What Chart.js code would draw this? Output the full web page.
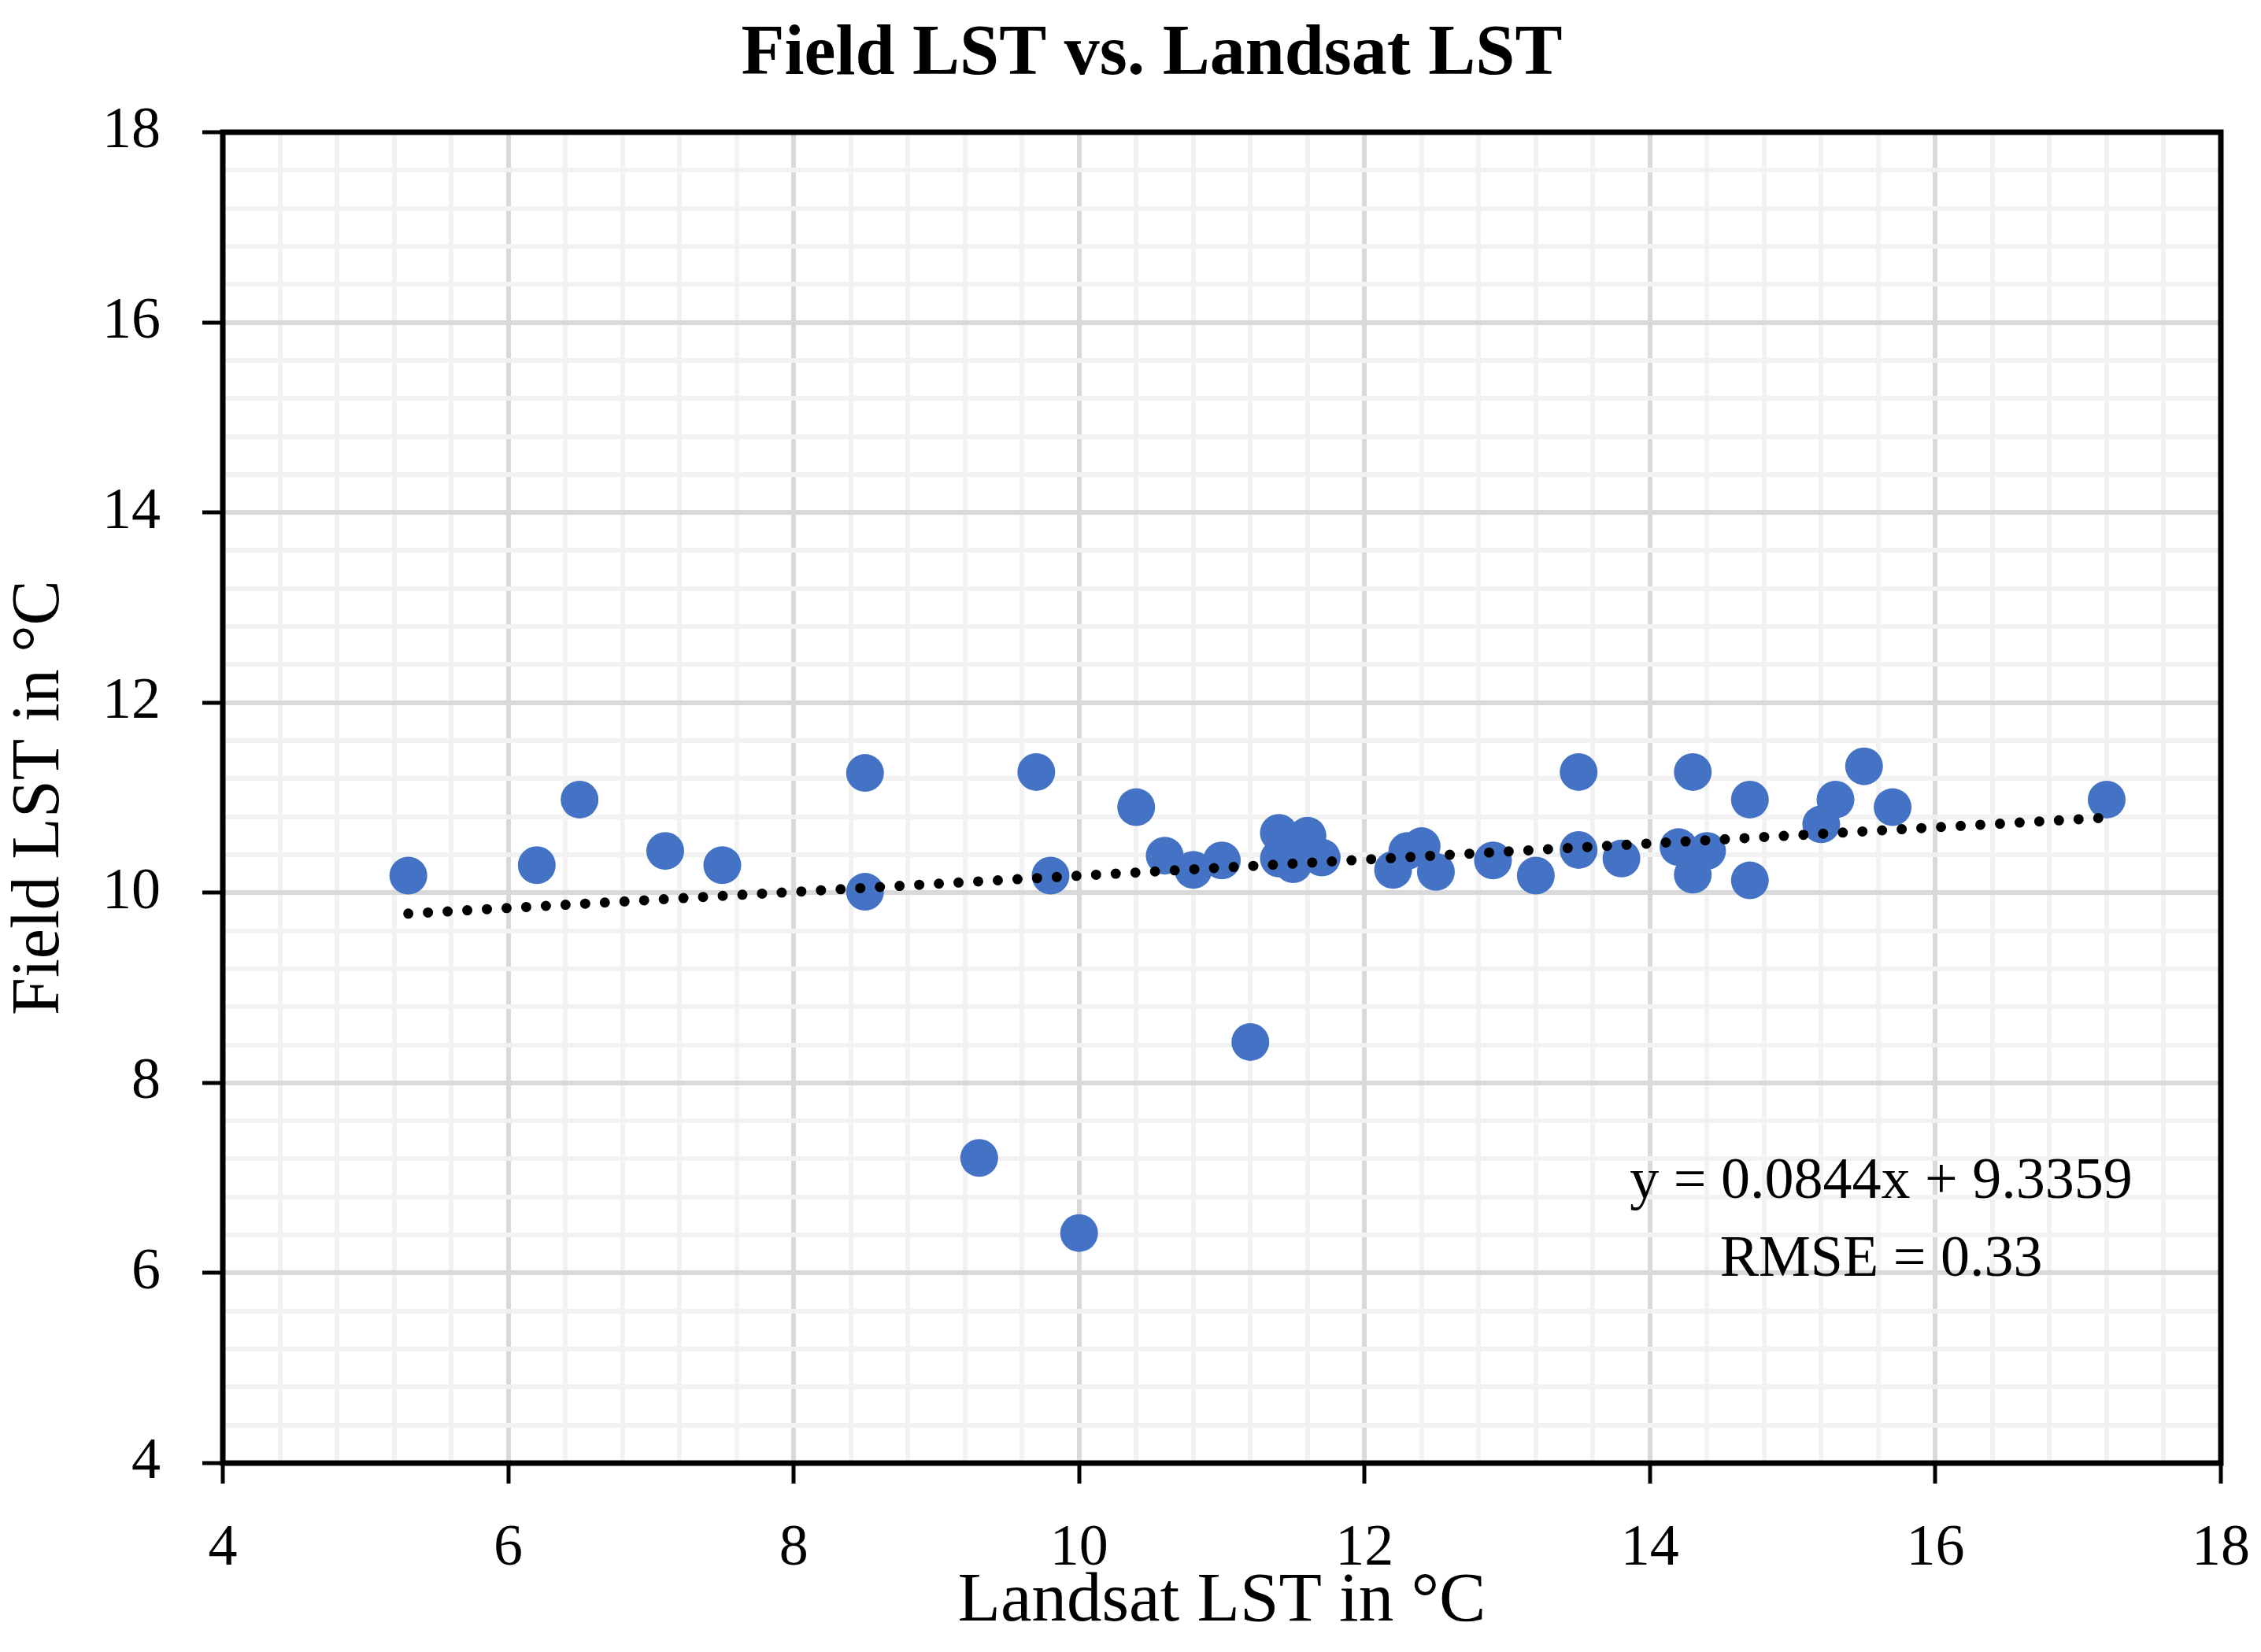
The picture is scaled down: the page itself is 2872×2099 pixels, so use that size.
<!DOCTYPE html>
<html>
<head>
<meta charset="utf-8">
<style>
  html, body { margin: 0; padding: 0; background: #ffffff; }
  #wrap { width: 2872px; height: 2099px; }
  canvas { display: block; }
</style>
<script src="https://cdn.jsdelivr.net/npm/chart.js@4.4.1/dist/chart.umd.min.js"></script>
</head>
<body>
<div id="wrap"><canvas id="c" width="2872" height="2099" style="width:2872px;height:2099px"></canvas></div>
<script>
// ---- Data ----
const landsatLST = [5.3, 6.2, 6.5, 7.1, 7.5, 8.5, 8.5, 9.3, 9.7, 9.8, 10.0, 10.4, 10.6, 10.8, 11.0, 11.2,
  11.4, 11.4, 11.5, 11.6, 11.7, 12.2, 12.3, 12.4, 12.5, 12.9, 13.2, 13.5, 13.5, 13.8,
  14.2, 14.3, 14.3, 14.4, 14.7, 14.7, 15.2, 15.3, 15.5, 15.7, 17.2];
const fieldLST = [10.18, 10.29, 10.98, 10.44, 10.29, 11.26, 10.01, 7.21, 11.27, 10.18, 6.42, 10.90, 10.39, 10.24, 10.34, 8.43,
  10.63, 10.36, 10.30, 10.60, 10.37, 10.24, 10.44, 10.49, 10.22, 10.34, 10.18, 11.27, 10.45, 10.36,
  10.48, 11.27, 10.19, 10.44, 10.98, 10.13, 10.72, 10.98, 11.33, 10.90, 10.98];
const trendX = [5.3, 17.2];
const trendY = [9.78, 10.79];
const xTickLabels = ['4', '6', '8', '10', '12', '14', '16', '18'];
const yTickLabels = ['4', '6', '8', '10', '12', '14', '16', '18'];
const chartTitle = 'Field LST vs. Landsat LST';
const annotationLines = ['y = 0.0844x + 9.3359', 'RMSE = 0.33'];

const AXIS_MIN = 4, AXIS_MAX = 18, MINOR_STEP = 0.4, MAJOR_STEP = 2;
const FONT = "'Liberation Serif', 'Times New Roman', serif";

function gridValues() {
  const out = [];
  const n = Math.round((AXIS_MAX - AXIS_MIN) / MINOR_STEP);
  for (let i = 0; i <= n; i++) out.push(+(AXIS_MIN + i * MINOR_STEP).toFixed(4));
  return out;
}
function isMajor(v) {
  const r = (v - AXIS_MIN) / MAJOR_STEP;
  return Math.abs(r - Math.round(r)) < 1e-6;
}
function labelFor(labels, v) {
  if (!isMajor(v)) return '';
  const found = labels.find(l => Math.abs(Number(l) - v) < 1e-6);
  return found === undefined ? '' : found;
}

const framePlugin = {
  id: 'frame',
  afterDraw(chart) {
    const {ctx, chartArea: a} = chart;
    ctx.save();
    ctx.strokeStyle = '#000000';
    ctx.lineWidth = 7;
    ctx.strokeRect(a.left, a.top, a.right - a.left, a.bottom - a.top);
    ctx.restore();
  }
};

const textPlugin = {
  id: 'texts',
  afterDraw(chart) {
    const {ctx} = chart;
    const xs = chart.scales.x, ys = chart.scales.y;
    ctx.save();
    ctx.fillStyle = '#000000';
    ctx.textAlign = 'center';
    ctx.textBaseline = 'middle';
    // title
    ctx.font = "bold 90px " + FONT;
    ctx.fillText(chartTitle, 1463, 71);
    // regression annotation
    ctx.font = "74px " + FONT;
    const cx = xs.getPixelForValue(15.62);
    ctx.fillText(annotationLines[0], cx, ys.getPixelForValue(6.95));
    ctx.fillText(annotationLines[1], cx, ys.getPixelForValue(6.13));
    ctx.restore();
  }
};

function gridOpts() {
  return {
    display: true,
    drawOnChartArea: true,
    drawTicks: true,
    tickLength: 26,
    color: (c) => (c.tick && isMajor(c.tick.value)) ? '#d9d9d9' : '#f2f2f2',
    lineWidth: 6,
    tickColor: (c) => (c.tick && isMajor(c.tick.value)) ? '#000000' : 'rgba(0,0,0,0)',
    tickWidth: 5
  };
}

new Chart(document.getElementById('c'), {
  type: 'scatter',
  data: {
    datasets: [
      {
        type: 'line',
        label: 'Trend',
        data: trendX.map((x, i) => ({x: x, y: trendY[i]})),
        borderColor: '#000000',
        borderWidth: 13,
        borderDash: [0, 25],
        borderCapStyle: 'round',
        pointRadius: 0,
        fill: false,
        order: 0
      },
      {
        label: 'Field vs Landsat',
        data: landsatLST.map((x, i) => ({x: x, y: fieldLST[i]})),
        backgroundColor: '#4472C4',
        borderWidth: 0,
        pointRadius: 24,
        pointHoverRadius: 24,
        order: 1
      }
    ]
  },
  options: {
    responsive: false,
    devicePixelRatio: 1,
    animation: false,
    layout: { padding: { left: 0, right: 51, top: 168, bottom: 0 } },
    plugins: {
      legend: { display: false },
      tooltip: { enabled: false },
      title: { display: false }
    },
    scales: {
      x: {
        type: 'linear',
        position: 'bottom',
        min: AXIS_MIN,
        max: AXIS_MAX,
        afterBuildTicks: (s) => { s.ticks = gridValues().map(v => ({value: v})); },
        afterFit: (s) => { s.height = 240; s.paddingLeft = 0; s.paddingRight = 0; },
        border: { display: false },
        grid: gridOpts(),
        ticks: {
          autoSkip: false,
          maxRotation: 0,
          minRotation: 0,
          padding: 39,
          color: '#000000',
          font: { family: FONT, size: 74, lineHeight: 1.2 },
          callback: (v) => labelFor(xTickLabels, v)
        },
        title: {
          display: true,
          text: 'Landsat LST in °C',
          color: '#000000',
          font: { family: FONT, size: 89, lineHeight: 1.2 },
          padding: { top: 0, bottom: 10 }
        }
      },
      y: {
        type: 'linear',
        position: 'left',
        min: AXIS_MIN,
        max: AXIS_MAX,
        afterBuildTicks: (s) => { s.ticks = gridValues().map(v => ({value: v})); },
        afterFit: (s) => { s.width = 283; s.paddingTop = 0; s.paddingBottom = 0; },
        border: { display: false },
        grid: gridOpts(),
        ticks: {
          autoSkip: false,
          padding: 53,
          color: '#000000',
          font: { family: FONT, size: 74, lineHeight: 1.2 },
          callback: (v) => labelFor(yTickLabels, v)
        },
        title: {
          display: true,
          text: 'Field LST in °C',
          color: '#000000',
          font: { family: FONT, size: 86, lineHeight: 1.2 },
          padding: { top: 0, bottom: 0 }
        }
      }
    }
  },
  plugins: [framePlugin, textPlugin]
});
</script>
</body>
</html>
